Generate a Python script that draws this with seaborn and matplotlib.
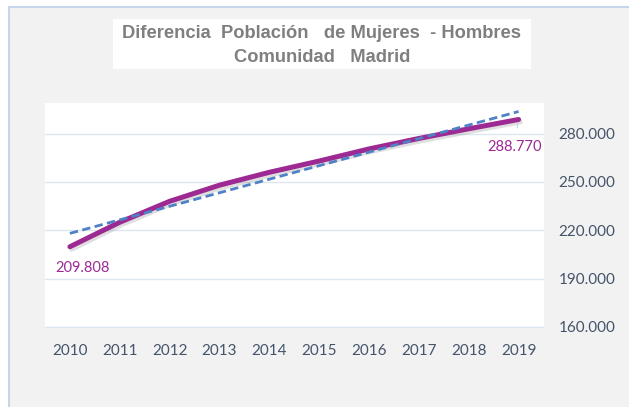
import matplotlib
matplotlib.use("Agg")
import matplotlib.pyplot as plt
import matplotlib.patheffects as pe
from matplotlib.patches import Rectangle
from matplotlib.ticker import FuncFormatter
import numpy as np
import pandas as pd
import seaborn as sns

# Diferencia mujeres - hombres, Comunidad de Madrid
years = [2010, 2011, 2012, 2013, 2014, 2015, 2016, 2017, 2018, 2019]
diferencia = [209808, 225000, 238000, 248000, 256000, 263000, 270500, 277000, 283000, 288770]
y_ticks = [160000, 190000, 220000, 250000, 280000]

df = pd.DataFrame({"year": years, "diferencia": diferencia})

sns.set_style("white")
plt.rcParams["font.family"] = ["Lato", "DejaVu Sans"]

purple = "#9C2A92"
blue = "#4F81C7"
tick_col = "#44546A"

fig = plt.figure(figsize=(6.29, 4.07), dpi=100)
fig.patch.set_facecolor("white")

# chart background (gray area with light blue border)
fig.patches.append(Rectangle((9 / 629, -0.05), 1.0, 1 - 7 / 407 + 0.05,
                             transform=fig.transFigure, facecolor="#F2F2F2",
                             edgecolor="#C5D5EC", linewidth=1.5, zorder=0))
# white box behind title
fig.patches.append(Rectangle((113 / 629, 1 - 69 / 407), 418 / 629, 50 / 407,
                             transform=fig.transFigure, facecolor="white",
                             edgecolor="none", zorder=1))
fig.text(322 / 629, 1 - 33 / 407, "Diferencia  Población   de Mujeres  - Hombres",
         ha="center", va="center", fontsize=13.2, fontweight="bold",
         color="#7F7F7F", family=["Liberation Sans", "DejaVu Sans"], zorder=2)
fig.text(322 / 629, 1 - 57 / 407, "Comunidad   Madrid",
         ha="center", va="center", fontsize=13.2, fontweight="bold",
         color="#7F7F7F", family=["Liberation Sans", "DejaVu Sans"], zorder=2)

ax = fig.add_axes([45 / 629, 1 - 327 / 407, 498.5 / 629, 224 / 407])
ax.set_zorder(3)
ax.set_facecolor("white")

# trend line (linear fit)
sns.regplot(data=df, x="year", y="diferencia", scatter=False, ci=None, ax=ax,
            line_kws={"color": blue, "lw": 2.0, "ls": (0, (3, 1.6)), "zorder": 4})

# main series
sns.lineplot(data=df, x="year", y="diferencia", ax=ax, color=purple, lw=3.6,
             zorder=3, solid_capstyle="round",
             path_effects=[pe.SimpleLineShadow(offset=(1.2, -1.8), shadow_color="#808080", alpha=0.25),
                           pe.Normal()])

ax.set_xlim(years[0] - 0.5, years[-1] + 0.5)
ax.set_ylim(160000, 299000)
ax.set_xticks(years)
ax.set_yticks(y_ticks)
ax.yaxis.set_major_formatter(FuncFormatter(lambda v, p: f"{int(v):,}".replace(",", ".")))
ax.yaxis.tick_right()
ax.tick_params(axis="y", length=0, pad=11, labelsize=11, labelcolor=tick_col)
ax.tick_params(axis="x", length=0, pad=12, labelsize=11, labelcolor=tick_col)
ax.set_xlabel("")
ax.set_ylabel("")
ax.grid(axis="y", color="#DCE6F2", lw=1.0)
ax.set_axisbelow(True)
for side in ["top", "left", "right"]:
    ax.spines[side].set_visible(False)
ax.spines["bottom"].set_color("#DCE6F2")

# data labels for first and last points
ax.annotate(f"{diferencia[0]:,}".replace(",", "."), (years[0], diferencia[0]),
            xytext=(9, -15.6), textcoords="offset points", ha="center", va="center",
            fontsize=10.5, color=purple)
ax.annotate(f"{diferencia[-1]:,}".replace(",", "."), (years[-1], diferencia[-1]),
            xytext=(-3, -19.5), textcoords="offset points", ha="center", va="center",
            fontsize=10.5, color=purple,
            arrowprops=dict(arrowstyle="-", color="#BDD7EE", lw=0.8, shrinkA=6, shrinkB=3))

fig.savefig("out.png", dpi=100, facecolor=fig.get_facecolor())
